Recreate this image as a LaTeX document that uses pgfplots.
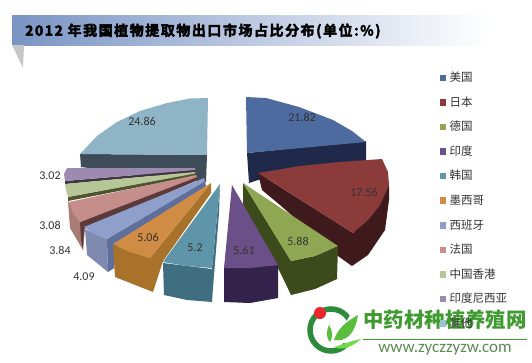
\documentclass[border=0pt]{standalone}
\usepackage{pgfplots}
\pgfplotsset{compat=1.18}
\usepackage{fontspec}
\setmainfont{Carlito}
\newfontfamily\cjk{Noto Sans CJK SC}
\newfontfamily\cjktitle[LetterSpace=11,FakeBold=3]{Noto Sans CJK SC Bold}
\definecolor{cBigT}{HTML}{8FB4C5}
\definecolor{cBigS}{HTML}{3E4B59}
\definecolor{cBlue}{HTML}{4D6B9F}
\definecolor{cBlueS}{HTML}{1F2A4A}
\definecolor{cRed}{HTML}{8C3B3B}
\definecolor{cRedS}{HTML}{3F1A1C}
\definecolor{cGrn}{HTML}{8FA752}
\definecolor{cGrnS}{HTML}{3D4A1C}
\definecolor{cPur}{HTML}{6B4F88}
\definecolor{cPurS}{HTML}{33234A}
\definecolor{cTeal}{HTML}{5F95A8}
\definecolor{cTealS}{HTML}{3F6E80}
\definecolor{cOra}{HTML}{D08B45}
\definecolor{cOraS}{HTML}{A9722A}
\definecolor{cLil}{HTML}{8E9FCB}
\definecolor{cLilR}{HTML}{7F8BAE}
\definecolor{cLilS}{HTML}{5D6F9A}
\definecolor{cPnk}{HTML}{C68E8B}
\definecolor{cPnkR}{HTML}{A87C74}
\definecolor{cPnkS}{HTML}{5C3A3A}
\definecolor{cLgr}{HTML}{B6C697}
\definecolor{cLgrS}{HTML}{4C5530}
\definecolor{cLpu}{HTML}{9D8AB0}
\definecolor{cLpuS}{HTML}{3F3540}
\definecolor{cSky}{HTML}{9DC3D6}
\definecolor{wmG}{HTML}{3F9A2F}
\begin{document}
\begin{tikzpicture}
\begin{axis}[
  scale only axis, width=532pt, height=362pt,
  xmin=0, xmax=532, ymin=0, ymax=362, y dir=reverse,
  hide axis, clip=false,
  legend style={at={(axis cs:436.5,69.5)},anchor=north west,draw=none,fill=none,
    font=\cjk\fontsize{11.5}{12}\selectfont,text=black!80,
    row sep=11.55pt,
    /tikz/every odd column/.append style={column sep=2.5pt},
    nodes={text height=9pt,text depth=2pt,inner sep=1pt}},
  legend cell align=left,
  legend image code/.code={\path[#1,draw=none] (0pt,-3pt) rectangle (6.5pt,3.5pt);},
  faces/.style={draw=none,forget plot,mark=none,fill=#1},
]
\addlegendimage{fill=cBlue}\addlegendentry{美国}
\addlegendimage{fill=cRed}\addlegendentry{日本}
\addlegendimage{fill=cGrn}\addlegendentry{德国}
\addlegendimage{fill=cPur}\addlegendentry{印度}
\addlegendimage{fill=cTeal}\addlegendentry{韩国}
\addlegendimage{fill=cOra}\addlegendentry{墨西哥}
\addlegendimage{fill=cLil}\addlegendentry{西班牙}
\addlegendimage{fill=cPnk}\addlegendentry{法国}
\addlegendimage{fill=cLgr}\addlegendentry{中国香港}
\addlegendimage{fill=cLpu}\addlegendentry{印度尼西亚}
\addlegendimage{fill=cSky}\addlegendentry{其他}

\path[fill=white] (axis cs:0,0) rectangle (axis cs:532,362);
% title band
\fill[left color={rgb,255:red,122;green,148;blue,196}, middle color={rgb,255:red,185;green,199;blue,224}, right color=white] (axis cs:12,15) rectangle (axis cs:490,45);
\fill[black!22] (axis cs:12,45) -- (axis cs:24,45) -- (axis cs:23,68) -- cycle;
\node[anchor=west,inner sep=0pt,font=\cjktitle\fontsize{14}{16}\selectfont] at (axis cs:25,31) {2012 年我国植物提取物出口市场占比分布(单位:\%)};

% 其他 24.86
\addplot[faces=cBigS] coordinates {(80,154)(207,155)(206,182)(150,176)(81,167)};
\addplot[faces=cBigT] coordinates {(208,98)(190,98.5)(167,103)(140,111)(117,122)(97,136)(80,154)(207,155)};
% 印度尼西亚 3.02
\addplot[faces=cLpuS] coordinates {(65,181)(195,170)(195,172)(65,184)};
\addplot[faces=cLpu] coordinates {(67,168)(195,168)(195,170)(65,181)(64,174)};
% 中国香港 3.08
\addplot[faces=cLgrS] coordinates {(68,197)(195,173)(195,176)(68,201)};
\addplot[faces=cLgr] coordinates {(65,184)(195,172)(195,173.5)(68,197)(66,190)};
% 法国 3.84
\addplot[faces=cPnkR] coordinates {(68,201)(70,228)(83,250)(85,229)(80,222)};
\addplot[faces=cPnkS] coordinates {(80,222)(196,176)(198,180)(84,229)(83,250)(81,240)};
\addplot[faces=cPnk] coordinates {(69,202)(196,175)(197,177)(80,222)(73,213)};
% 西班牙 4.09
\addplot[faces=cLilR] coordinates {(85,229)(87,255)(108,272)(107,239)};
\addplot[faces=cLilS] coordinates {(107,239)(205,181)(206,186)(114,250)(114,268)(108,272)};
\addplot[faces=cLil] coordinates {(84,227)(204,178)(205,181)(107,239)(94,234)};
% 墨西哥 5.06
\addplot[faces=cOraS] coordinates {(113,245)(115,277)(153,292)(163,261)(211,193)(211,183)(150,258)};
\addplot[faces=cOra] coordinates {(113,244)(211,183)(150,258)(130,252)};
% 美国 21.82
\addplot[faces=cBlueS] coordinates {(247,153)(366,141)(366,167)(300,175)(258,180)(249,183)};
\addplot[faces=cBlue] coordinates {(246,97)(266,98)(299,107)(333,120)(352,131)(366,142)(247,153)};
% 日本 17.56
\addplot[faces=cRedS] coordinates {(258,173)(353,233)(389,185)(389,200)(385,230)(368,255)(352,266)(338,256)(280,205)(262,190)};
\addplot[faces=cRed] coordinates {(258,173)(300,166)(340,162)(382,159)(388,172)(389,185)(380,205)(368,220)(353,233)};
% 德国 5.88
\addplot[faces=cGrnS] coordinates {(243,183)(291,261)(315,256)(338,246)(337,279)(315,289)(291,295)(280,272)(243,205)};
\addplot[faces=cGrn] coordinates {(243,183)(338,246)(315,256)(291,261)};
% 印度 5.61
\addplot[faces=cPurS] coordinates {(224,268)(224,302)(250,303)(278,298)(278,265)};
\addplot[faces=cPur] coordinates {(232,185)(278,265)(250,268)(224,268)};
% 韩国 5.2
\addplot[faces=cTealS] coordinates {(163,263)(164,295)(187,300)(212,302)(212,269)};
\addplot[faces=cTealS] coordinates {(212,268)(220,185)(219,213)(212,300)};
\addplot[faces=cTeal] coordinates {(220,184)(212,268)(187,266)(163,262)};

% data labels
\addplot[draw=none,mark=none,forget plot,point meta=explicit symbolic,
  nodes near coords,
  nodes near coords style={anchor=center,inner sep=0pt,font=\fontsize{12}{14}\selectfont,text=black!80}]
  table[meta=l,row sep=\\] {
  x y l\\
  142 121 24.86\\
  302 117 21.82\\
  364 192 17.56\\
  298 241 5.88\\
  244 250 5.61\\
  195 248 5.2\\
  148 237 5.06\\
  84 277 4.09\\
  60 250 3.84\\
  50 225 3.08\\
  50 176 3.02\\
};

% watermark
\draw[line width=5.5pt,color={rgb,255:red,45;green,140;blue,60}] (axis cs:331,330) circle [radius=21pt];
\fill[white] (axis cs:352,312) -- (axis cs:362,330) -- (axis cs:350,345) -- (axis cs:335,340) -- cycle;
\fill[color={rgb,255:red,235;green,40;blue,45}] (axis cs:320,313) circle [radius=6pt];
\fill[color={rgb,255:red,90;green,190;blue,60}] (axis cs:358,315) .. controls (axis cs:355,335) and (axis cs:345,342) .. (axis cs:334,340) .. controls (axis cs:338,328) and (axis cs:346,322) .. (axis cs:358,315);
\fill[color={rgb,255:red,90;green,190;blue,60}] (axis cs:329,325) .. controls (axis cs:326,332) and (axis cs:326,338) .. (axis cs:330,342) .. controls (axis cs:333,337) and (axis cs:333,331) .. (axis cs:329,325);
\fill[color={rgb,255:red,110;green,220;blue,70}] (axis cs:361,339) .. controls (axis cs:350,341) and (axis cs:342,345) .. (axis cs:334,347) .. controls (axis cs:342,351) and (axis cs:352,347) .. (axis cs:361,339);
\node[anchor=center,inner sep=0pt,color=wmG,font=\cjk\bfseries\fontsize{20.4}{22}\selectfont] at (axis cs:445,320) {中药材种植养殖网};
\draw[color=wmG,line width=0.9pt] (axis cs:363,339) -- (axis cs:527,339);
\node[anchor=center,inner sep=0pt,color={rgb,255:red,90;green,140;blue,80},font=\fontsize{17}{18}\selectfont] at (axis cs:445,350) {www.zyczzyzw.com};
\end{axis}
\end{tikzpicture}
\end{document}
